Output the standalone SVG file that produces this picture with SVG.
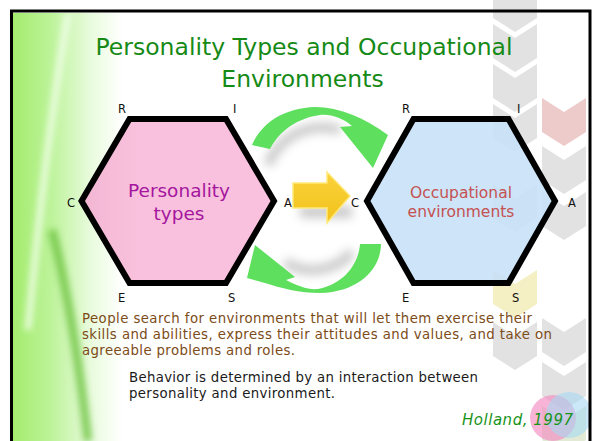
<svg xmlns="http://www.w3.org/2000/svg" width="600" height="441" viewBox="0 0 600 441">
<defs>
<style>
.lbl{font-family:"DejaVu Sans",Verdana,sans-serif;font-size:11.5px;fill:#111}
.title{font-family:"DejaVu Sans",Verdana,sans-serif;font-size:23.5px;fill:#168A16}
.hex{stroke:#000;stroke-width:6;stroke-linejoin:miter}
.body{font-family:"DejaVu Sans",Verdana,sans-serif;font-size:13.3px}
.chev{fill:#E2E2E2}
.garrow{fill:#5EE05E}
</style>
<linearGradient id="bgL" x1="0" y1="0" x2="1" y2="0">
<stop offset="0" stop-color="#A4EC6E"/>
<stop offset="0.35" stop-color="#BDF39A"/>
<stop offset="0.7" stop-color="#E8FBDC"/>
<stop offset="1" stop-color="#FFFFFF"/>
</linearGradient>
<linearGradient id="pinkG" x1="0" y1="0" x2="1" y2="0">
<stop offset="0" stop-color="#F2B6D3"/>
<stop offset="0.3" stop-color="#F9C1DD"/>
<stop offset="1" stop-color="#F9C1DD"/>
</linearGradient>
<linearGradient id="yelG" x1="0" y1="0" x2="0" y2="1">
<stop offset="0" stop-color="#F9D23A"/>
<stop offset="1" stop-color="#F2C21C"/>
</linearGradient>
<filter id="blur5" x="-30%" y="-30%" width="160%" height="160%"><feGaussianBlur stdDeviation="5"/></filter>
<filter id="blur3" x="-30%" y="-30%" width="160%" height="160%"><feGaussianBlur stdDeviation="3"/></filter>
<path id="chv" d="M0,0 L22,14 L44,0 L44,34 L22,48 L0,34 Z"/>
</defs>

<!-- background -->
<rect x="0" y="0" width="600" height="441" fill="#FFFFFF"/>
<rect x="13" y="13" width="110" height="428" fill="url(#bgL)"/>
<path d="M68,14 C55,90 40,200 28,330" stroke="#F4FFEE" stroke-width="7" fill="none" opacity="0.8" filter="url(#blur3)"/>
<path d="M52,230 C70,300 80,370 88,441" stroke="#6FC443" stroke-width="9" fill="none" opacity="0.8" filter="url(#blur3)"/>

<!-- decorative chevrons -->
<g id="decor">
<use href="#chv" class="chev" x="493" y="-16"/>
<use href="#chv" class="chev" x="493" y="24"/>
<use href="#chv" class="chev" x="493" y="64"/>
<use href="#chv" class="chev" x="493" y="104"/>
<use href="#chv" class="chev" x="493" y="184"/>
<use href="#chv" fill="#F5EFC4" x="493" y="270"/>
<use href="#chv" class="chev" x="493" y="322"/>
<use href="#chv" fill="#EDCBCB" x="542" y="98"/>
<use href="#chv" class="chev" x="542" y="146"/>
<use href="#chv" class="chev" x="542" y="192"/>
<use href="#chv" class="chev" x="542" y="318"/>
<use href="#chv" class="chev" x="542" y="362"/>
<use href="#chv" fill="#E2EAD6" x="542" y="406"/>
<circle cx="553" cy="418" r="23" fill="#F28CC0" opacity="0.65"/>
<circle cx="569" cy="415" r="23" fill="#A6D8F2" opacity="0.6"/>
</g>

<!-- frame -->
<rect x="11.5" y="11" width="578.5" height="460" fill="none" stroke="#000" stroke-width="3"/>

<!-- title -->
<text class="title" x="304" y="55" text-anchor="middle" textLength="417" lengthAdjust="spacingAndGlyphs">Personality Types and Occupational</text>
<text class="title" x="302.5" y="87" text-anchor="middle">Environments</text>

<!-- shadows -->
<g fill="none" stroke="#8C8C8C" opacity="0.45" filter="url(#blur5)">
<path d="M268,165 C280,135 310,122 340,130" stroke-width="10"/>
<path d="M285,262 C305,275 335,272 352,252" stroke-width="10"/>
<path d="M300,212 L352,212" stroke-width="12"/>
</g>

<!-- nodes -->
<g id="personality">
<polygon class="hex" points="81.5,201 129.5,119 226,119 274,201 226,283 129.5,283" fill="url(#pinkG)"/>
<text x="179" y="197" text-anchor="middle" font-family="DejaVu Sans, Verdana, sans-serif" font-size="18.5" fill="#A4169E">Personality</text>
<text x="179" y="220" text-anchor="middle" font-family="DejaVu Sans, Verdana, sans-serif" font-size="18.5" fill="#A4169E">types</text>
<text class="lbl" x="118" y="113">R</text>
<text class="lbl" x="233" y="113">I</text>
<text class="lbl" x="67" y="207">C</text>
<text class="lbl" x="284" y="207">A</text>
<text class="lbl" x="118" y="301.5">E</text>
<text class="lbl" x="228" y="301.5">S</text>
</g>

<g id="occupational">
<polygon class="hex" points="367,201 413.5,119 508.5,119 555,201 508.5,283 413.5,283" fill="#C6E0F8" fill-opacity="0.88"/>
<text x="461" y="197.5" text-anchor="middle" font-family="DejaVu Sans, Verdana, sans-serif" font-size="15.5" fill="#C55150">Occupational</text>
<text x="461" y="216.5" text-anchor="middle" font-family="DejaVu Sans, Verdana, sans-serif" font-size="15.5" fill="#C55150">environments</text>
<text class="lbl" x="402" y="113">R</text>
<text class="lbl" x="517" y="113">I</text>
<text class="lbl" x="351" y="207">C</text>
<text class="lbl" x="568" y="207">A</text>
<text class="lbl" x="402" y="301.5">E</text>
<text class="lbl" x="512" y="301.5">S</text>
</g>

<!-- connectors -->
<g id="connectors">
<path class="garrow" d="M252,145 C262,122 285,108 315,107 C340,107 365,118 388,135 L373,168 L340,127 L352,126 C342,118 332,114 320,115 C298,118 280,130 270,149 Z"/>
<path class="garrow" d="M360,244 L381,244 C381,268 360,292 320,293 C300,293 280,288 265,283 L247,278 L255,245 L295,277 L286,280 C298,286 308,290 318,289 C340,285 358,268 360,244 Z"/>
<path d="M293,183 L327,183 L327,172 L350,196 L327,223 L327,208 L293,208 Z" fill="url(#yelG)" stroke="#FFE97A" stroke-width="1.5" stroke-linejoin="miter"/>
</g>

<!-- texts -->
<g class="body" fill="#7C4C18">
<text x="82" y="323" textLength="450" lengthAdjust="spacing">People search for environments that will let them exercise their</text>
<text x="82" y="339" textLength="470" lengthAdjust="spacing">skills and abilities, express their attitudes and values, and take on</text>
<text x="82" y="354.5" textLength="213" lengthAdjust="spacing">agreeable problems and roles.</text>
</g>
<g class="body" fill="#1A1A1A">
<text x="129" y="381.5" textLength="349" lengthAdjust="spacing">Behavior is determined by an interaction between</text>
<text x="129" y="398" textLength="206" lengthAdjust="spacing">personality and environment.</text>
</g>
<text x="462" y="425" font-family="DejaVu Sans, Verdana, sans-serif" font-style="italic" font-size="15" fill="#17931A" textLength="111" lengthAdjust="spacing">Holland, 1997</text>
</svg>
